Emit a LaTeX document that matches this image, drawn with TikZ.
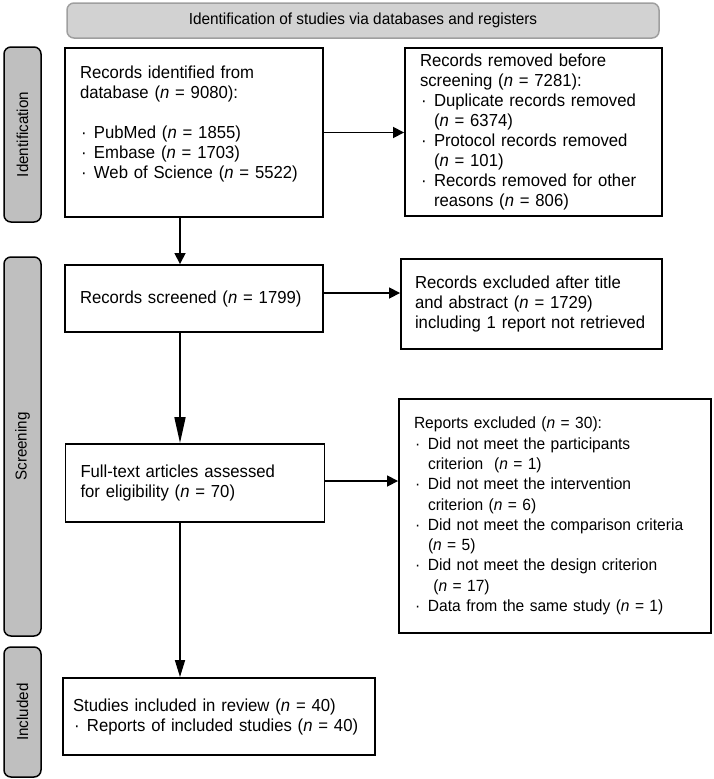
\documentclass[tikz,border=0pt]{standalone}
\usepackage{fontspec}
\setmainfont{Liberation Sans}[FakeStretch=0.96]
\usetikzlibrary{arrows.meta}
\newcommand{\itm}{\makebox[14pt][l]{\hspace{1pt}·}}
\newcommand{\indt}{\hspace*{14pt}}
\newcommand{\nval}{\textit{n}}
\tikzset{flowbox/.style={draw=black, line width=1.9pt, inner sep=0pt, align=left, font=\fontsize{17.4}{20}\selectfont},
  phase/.style={draw=black, fill=gray!50, line width=1.5pt, rounded corners=7pt, rotate=90, minimum height=37pt, inner sep=0pt, font=\fontsize{15.8}{18}\selectfont},
  banner/.style={draw=gray!75, fill=gray!35, line width=1.5pt, rounded corners=7pt, inner sep=0pt, font=\fontsize{16}{18}\selectfont},
  arr/.style={-{Triangle[length=11pt,width=11pt]}, line width=1.7pt}}

\begin{document}
\begin{tikzpicture}[x=1pt,y=-1pt]
  \useasboundingbox (0,0) rectangle (714,779);
  \node[banner, minimum width=592pt, minimum height=35pt] (head) at (363,20.5) {Identification of studies via databases and registers};
  \node[phase, minimum width=175pt] (pid) at (22.5,134.5) {Identification};
  \node[phase, minimum width=379pt] (pscr) at (22.5,446.5) {Screening};
  \node[phase, minimum width=130pt] (pinc) at (22.5,712) {Included};

  \node[flowbox, text width=228pt, minimum width=258pt, minimum height=169pt] (ident) at (194,132.5)
    {Records identified from\\ database (\nval{} = 9080):\\ \mbox{}\\
     \itm PubMed (\nval{} = 1855)\\ \itm Embase (\nval{} = 1703)\\ \itm Web of Science (\nval{} = 5522)\\ \mbox{}};
  \node[flowbox, text width=227pt, minimum width=257pt, minimum height=168pt] (removed) at (533.5,132)
    {Records removed before\\ screening (\nval{} = 7281):\\
     \itm Duplicate records removed\\ \indt(\nval{} = 6374)\\
     \itm Protocol records removed\\ \indt(\nval{} = 101)\\
     \itm Records removed for other\\ \indt reasons (\nval{} = 806)};
  \node[flowbox, text width=228pt, minimum width=258pt, minimum height=67pt] (screened) at (194,298.5)
    {Records screened (\nval{} = 1799)};
  \node[flowbox, text width=233pt, minimum width=261pt, minimum height=90pt] (excl) at (531.5,304)
    {Records excluded after title\\ and abstract (\nval{} = 1729)\\ including 1 report not retrieved};
  \node[flowbox, text width=229pt, minimum width=259pt, minimum height=78pt] (fulltext) at (195,483)
    {Full-text articles assessed\\ for eligibility (\nval{} = 70)};
  \node[flowbox, text width=282pt, minimum width=312pt, minimum height=234pt, font=\fontsize{16.2}{20.3}\selectfont] (reports) at (555,516)
    {Reports excluded (\nval{} = 30):\\
     \itm Did not meet the participants\\ \indt criterion\ \ (\nval{} = 1)\\
     \itm Did not meet the intervention\\ \indt criterion (\nval{} = 6)\\
     \itm Did not meet the comparison criteria\\ \indt(\nval{} = 5)\\
     \itm Did not meet the design criterion\\ \indt\ (\nval{} = 17)\\
     \itm Data from the same study (\nval{} = 1)};
  \node[flowbox, text width=292pt, minimum width=312pt, minimum height=77pt] (incl) at (219,716.5)
    {Studies included in review (\nval{} = 40)\\ \mbox{\itm Reports of included studies (\nval{} = 40)}};

  \coordinate (col) at (180,0);
  \draw[arr] (ident.south -| col) -- (screened.north -| col);
  \draw[arr, -{Triangle[length=26pt,width=11pt]}] (screened.south -| col) -- (fulltext.north -| col);
  \draw[arr, -{Triangle[length=17pt,width=10pt]}] (fulltext.south -| col) -- (incl.north -| col);
  \draw[arr] (ident.east) -- (ident.east -| removed.west);
  \draw[arr] ([yshift=5.5pt]screened.east) -- ([yshift=5.5pt]screened.east -| excl.west);
  \draw[arr] ([yshift=2pt]fulltext.east) -- ([yshift=2pt]fulltext.east -| reports.west);
\end{tikzpicture}
\end{document}
